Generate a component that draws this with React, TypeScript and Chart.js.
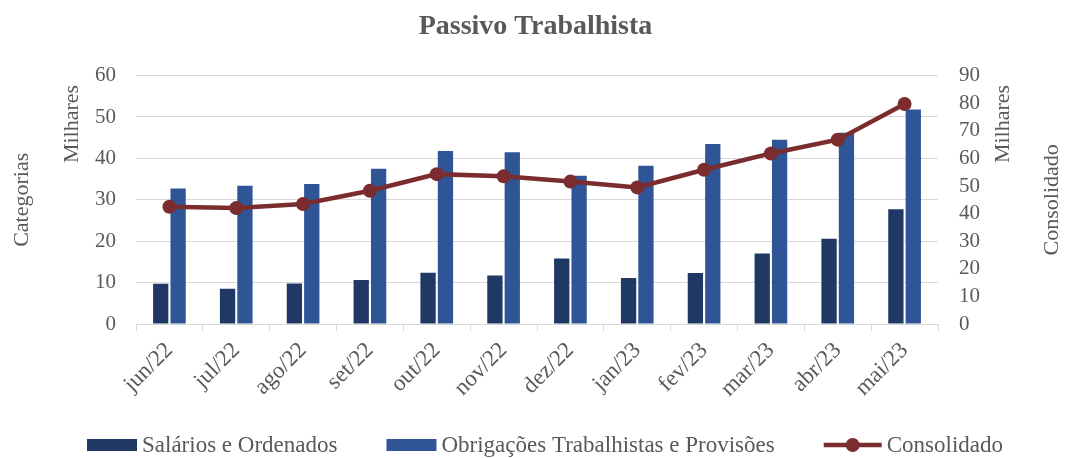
import React, { useEffect, useRef } from "react";
import { Chart, registerables } from "chart.js";

Chart.register(...registerables);

const categories = ["jun/22", "jul/22", "ago/22", "set/22", "out/22", "nov/22", "dez/22", "jan/23", "fev/23", "mar/23", "abr/23", "mai/23"];
const salarios = [9.7, 8.5, 9.8, 10.6, 12.4, 11.7, 15.8, 11.1, 12.3, 17.0, 20.6, 27.7];
const obrigacoes = [32.7, 33.4, 33.8, 37.5, 41.8, 41.5, 35.8, 38.2, 43.5, 44.5, 46.2, 51.8];
const consolidado = [42.5, 42.0, 43.5, 48.3, 54.3, 53.5, 51.6, 49.5, 55.9, 61.8, 66.8, 79.7];

const seriesNames = ["Salários e Ordenados", "Obrigações Trabalhistas e Provisões", "Consolidado"];
const leftTitles = ["Categorias", "Milhares"];
const rightTitles = ["Milhares", "Consolidado"];
const chartTitle = "Passivo Trabalhista";

const FONT = "'Liberation Serif', 'Times New Roman', serif";
const GRAY = "#595959";
const DARK = "#1f3864";
const BLUE = "#2f5597";
const RED = "#7b2c2f";

const extrasPlugin = {
  id: "extras",
  afterDraw(chart: any) {
    const ctx = chart.ctx as CanvasRenderingContext2D;
    const area = chart.chartArea;
    const midY = (area.top + area.bottom) / 2;
    ctx.save();
    ctx.fillStyle = GRAY;
    ctx.font = `22px ${FONT}`;
    ctx.textAlign = "center";
    ctx.textBaseline = "middle";
    const drawV = (text: string, x: number, y: number) => {
      ctx.save();
      ctx.translate(x, y);
      ctx.rotate(-Math.PI / 2);
      ctx.fillText(text, 0, 0);
      ctx.restore();
    };
    drawV(leftTitles[0], 22, midY);
    drawV(leftTitles[1], 72, 124);
    drawV(rightTitles[0], 1003, 124);
    drawV(rightTitles[1], 1052, midY);

    // legend
    ctx.font = `23px ${FONT}`;
    ctx.textAlign = "left";
    const ds = chart.data.datasets;
    const gapBT = 5;
    const spacing = 49;
    const order = [0, 1, 2];
    const boxWs = order.map((i) => (ds[i].type === "line" ? 58 : 50));
    const widths = order.map((i) => ctx.measureText(ds[i].label).width);
    let total = 0;
    order.forEach((_, k) => {
      total += boxWs[k] + gapBT + widths[k];
      if (k < order.length - 1) total += spacing;
    });
    let x = 545 - total / 2;
    const ly = 445;
    order.forEach((i, k) => {
      const d = ds[i];
      const bw = boxWs[k];
      if (d.type === "line") {
        ctx.strokeStyle = d.borderColor;
        ctx.lineWidth = 4.5;
        ctx.beginPath();
        ctx.moveTo(x, ly);
        ctx.lineTo(x + bw, ly);
        ctx.stroke();
        ctx.fillStyle = d.pointBackgroundColor;
        ctx.beginPath();
        ctx.arc(x + bw / 2, ly, 7, 0, Math.PI * 2);
        ctx.fill();
      } else {
        ctx.fillStyle = d.backgroundColor;
        ctx.fillRect(x, ly - 6, bw, 12);
      }
      ctx.fillStyle = GRAY;
      ctx.fillText(d.label, x + bw + gapBT, ly + 1);
      x += bw + gapBT + widths[k] + spacing;
    });
    ctx.restore();
  },
};

export default function App() {
  const ref = useRef<HTMLCanvasElement | null>(null);

  useEffect(() => {
    document.body.style.margin = "0";
    if (!ref.current) return;
    const chart = new Chart(ref.current, {
      type: "bar",
      data: {
        labels: categories,
        datasets: [
          {
            type: "bar",
            label: seriesNames[0],
            data: salarios,
            backgroundColor: DARK,
            yAxisID: "y",
            order: 2,
            barPercentage: 0.88,
            categoryPercentage: 0.52,
          },
          {
            type: "bar",
            label: seriesNames[1],
            data: obrigacoes,
            backgroundColor: BLUE,
            yAxisID: "y",
            order: 2,
            barPercentage: 0.88,
            categoryPercentage: 0.52,
          },
          {
            type: "line",
            label: seriesNames[2],
            data: consolidado,
            borderColor: RED,
            backgroundColor: RED,
            pointBackgroundColor: RED,
            pointBorderColor: RED,
            pointBorderWidth: 0,
            pointRadius: 7,
            borderWidth: 4.5,
            tension: 0,
            yAxisID: "y1",
            order: 0,
          } as any,
        ],
      },
      options: {
        animation: false,
        responsive: true,
        maintainAspectRatio: false,
        layout: { padding: 0 },
        plugins: {
          legend: { display: false },
          tooltip: { enabled: false },
          title: {
            display: true,
            text: chartTitle,
            color: GRAY,
            font: { family: FONT, size: 28, weight: "bold" },
            padding: { top: 10, bottom: 32 },
          },
        },
        scales: {
          x: {
            offset: true,
            grid: {
              offset: true,
              drawOnChartArea: false,
              drawTicks: true,
              tickLength: 7,
              color: "#d9d9d9",
            },
            border: { display: true, color: "#d9d9d9" },
            ticks: {
              autoSkip: false,
              minRotation: 45,
              maxRotation: 45,
              color: GRAY,
              font: { family: FONT, size: 23 },
              padding: 6,
            },
            afterFit: (s: any) => {
              s.height = 134;
            },
          },
          y: {
            position: "left",
            min: 0,
            max: 60,
            ticks: { stepSize: 10, autoSkip: false, color: GRAY, font: { family: FONT, size: 21 }, padding: 20 },
            grid: { color: "#d9d9d9", drawTicks: false },
            border: { display: false },
            afterFit: (s: any) => {
              s.width = 136;
            },
          },
          y1: {
            position: "right",
            min: 0,
            max: 90,
            ticks: { stepSize: 10, autoSkip: false, color: GRAY, font: { family: FONT, size: 21 }, padding: 21 },
            grid: { drawOnChartArea: false, drawTicks: false },
            border: { display: false },
            afterFit: (s: any) => {
              s.width = 133;
            },
          },
        },
      },
      plugins: [extrasPlugin],
    });
    return () => chart.destroy();
  }, []);

  return (
    <div style={{ width: 1071, height: 458, position: "relative" }}>
      <canvas ref={ref} />
    </div>
  );
}
